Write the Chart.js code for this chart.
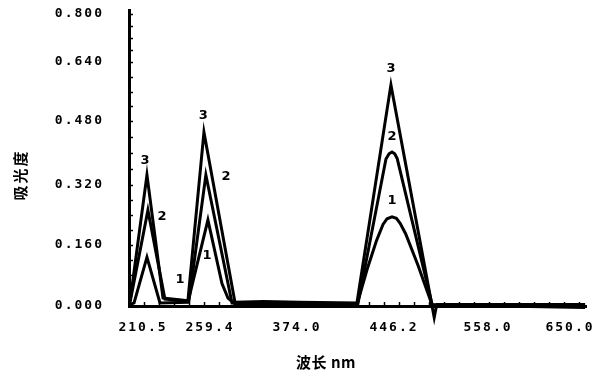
<!DOCTYPE html>
<html>
<head>
<meta charset="utf-8">
<script src="https://cdn.jsdelivr.net/npm/chart.js@4/dist/chart.umd.min.js"></script>
<style>
  body { margin: 0; background: #fff; }
  #wrap { width: 600px; height: 380px; }
</style>
</head>
<body>
<div id="wrap"><canvas id="spectrum" width="600" height="380"></canvas></div>
<script>
// tick labels as printed by the instrument
const xTicks = [210.5, 259.4, 374.0, 446.2, 558.0, 650.0];
const yTicks = [0, 0.16, 0.32, 0.48, 0.64, 0.80];

// curve 1
const wl1 = [200.8, 203.8, 213.4, 222.9, 243.3, 257.9, 275.2, 283.1, 292, 376, 418.6, 426.1, 433.0, 438.0, 441.0, 444.7, 449.0, 453.5, 460.0, 474.7, 491.4, 667];
const abs1 = [0.004, 0.008, 0.128, 0.008, 0.010, 0.227, 0.059, 0.021, 0.006, 0.004, 0.003, 0.095, 0.170, 0.215, 0.230, 0.235, 0.231, 0.218, 0.190, 0.107, 0.003, -0.004];
// curve 2
const wl2 = [200.8, 214.1, 226.5, 244.0, 256.4, 288.4, 376, 419.3, 440.2, 442.5, 444.7, 447.0, 450.0, 491.4, 497, 667];
const abs2 = [0.010, 0.253, 0.018, 0.013, 0.345, 0.008, 0.008, 0.005, 0.385, 0.398, 0.4025, 0.398, 0.386, 0.005, 0.0, 0.0];
// curve 3
const wl3 = [200.8, 213.4, 225.1, 243.3, 255.0, 292.3, 330, 376, 418.6, 443.9, 494, 497, 580, 667];
const abs3 = [0.012, 0.345, 0.021, 0.014, 0.452, 0.010, 0.012, 0.010, 0.008, 0.578, -0.03, 0.004, 0.004, 0.004];

// curve numbers written beside the peaks
const tagText = ['3', '2', '1', '3', '2', '1', '3', '2', '1'];
const tagWl = [211.9, 224.4, 237.5, 254.5, 280.5, 257.2, 443.9, 444.7, 444.7];
const tagAbs = [0.38, 0.235, 0.069, 0.494, 0.34, 0.131, 0.621, 0.44, 0.277];

// linear scale whose tick labels sit at uneven spots, like the printout
class PiecewiseScale extends Chart.LinearScale {
  static id = 'piecewise';
  static defaults = Chart.LinearScale.defaults;

  _frac(v) {
    const vals = this.options.breaks.values;
    const fr = this.options.breaks.fracs;
    let i = 1;
    while (i < vals.length - 1 && v > vals[i]) i++;
    const t = (v - vals[i - 1]) / (vals[i] - vals[i - 1]);
    return fr[i - 1] + t * (fr[i] - fr[i - 1]);
  }
  getPixelForValue(v) {
    const f = this._frac(v);
    return this.isHorizontal() ? this.left + f * this.width : this.bottom - f * this.height;
  }
  getValueForPixel(p) {
    const f = this.isHorizontal() ? (p - this.left) / this.width : (this.bottom - p) / this.height;
    const vals = this.options.breaks.values;
    const fr = this.options.breaks.fracs;
    let i = 1;
    while (i < fr.length - 1 && f > fr[i]) i++;
    const t = (f - fr[i - 1]) / (fr[i] - fr[i - 1]);
    return vals[i - 1] + t * (vals[i] - vals[i - 1]);
  }
}
Chart.register(PiecewiseScale);

const toPoints = (xs, ys) => xs.map((x, i) => ({ x: x, y: ys[i] }));

const spacing = {
  id: 'spacing',
  beforeLayout(chart) { chart.ctx.letterSpacing = '2px'; },
  beforeDraw(chart) { chart.ctx.letterSpacing = '2px'; }
};

const decorations = {
  id: 'decorations',
  afterDraw(chart) {
    const { ctx, chartArea } = chart;
    const xs = chart.scales.x, ys = chart.scales.y;
    ctx.save();
    ctx.strokeStyle = '#000';
    ctx.lineWidth = 1.5;
    // small inward ticks on the y axis
    for (let v = 0.04; v < 0.81; v += 0.04) {
      const py = Math.round(ys.getPixelForValue(v)) + 0.5;
      ctx.beginPath();
      ctx.moveTo(chartArea.left, py);
      ctx.lineTo(chartArea.left + 4, py);
      ctx.stroke();
    }
    // small ticks along the x axis
    for (let px = chartArea.left + 15; px < chartArea.right - 4; px += 15) {
      ctx.beginPath();
      ctx.moveTo(Math.round(px) + 0.5, chartArea.bottom);
      ctx.lineTo(Math.round(px) + 0.5, chartArea.bottom - 4);
      ctx.stroke();
    }

    ctx.fillStyle = '#000';
    ctx.textAlign = 'center';
    ctx.textBaseline = 'middle';
    ctx.letterSpacing = '0px';
    ctx.font = 'bold 13px "DejaVu Sans"';
    tagText.forEach((t, i) => {
      ctx.fillText(t, xs.getPixelForValue(tagWl[i]), ys.getPixelForValue(tagAbs[i]));
    });

    // axis titles
    ctx.font = 'bold 15px "Noto Sans CJK SC"';
    ctx.letterSpacing = '0.5px';
    ctx.fillText('波长 nm', 326, 362);
    ctx.translate(20, 175);
    ctx.rotate(-Math.PI / 2);
    ctx.letterSpacing = '2px';
    ctx.fillText('吸光度', 0, 0);
    ctx.restore();
  }
};

const lineStyle = {
  borderColor: '#000',
  borderWidth: 3,
  pointRadius: 0,
  tension: 0,
  fill: false,
  clip: false
};

new Chart(document.getElementById('spectrum'), {
  type: 'line',
  data: {
    datasets: [
      Object.assign({ label: '1', data: toPoints(wl1, abs1) }, lineStyle),
      Object.assign({ label: '2', data: toPoints(wl2, abs2) }, lineStyle),
      Object.assign({ label: '3', data: toPoints(wl3, abs3) }, lineStyle)
    ]
  },
  options: {
    responsive: false,
    animation: false,
    layout: { padding: { left: 0, right: 14, top: 10, bottom: 0 } },
    plugins: {
      legend: { display: false },
      tooltip: { enabled: false }
    },
    scales: {
      x: {
        type: 'piecewise',
        min: 200,
        max: 668,
        breaks: {
          values: [200, 210.5, 259.4, 374.0, 446.2, 558.0, 650.0, 668],
          fracs: [0, 0.0306, 0.1772, 0.3676, 0.5799, 0.7856, 0.9650, 1]
        },
        afterBuildTicks: (scale) => { scale.ticks = xTicks.map(v => ({ value: v })); },
        afterFit: (scale) => { scale.height = 74; scale.paddingLeft = 0; scale.paddingRight = 0; },
        grid: { display: false, drawTicks: false },
        border: { display: true, color: '#000', width: 3 },
        ticks: {
          color: '#000',
          padding: 14,
          autoSkip: false,
          maxRotation: 0,
          font: { family: 'DejaVu Sans Mono', weight: 'bold', size: 13 },
          callback: (v) => Number(v).toFixed(1)
        }
      },
      y: {
        type: 'piecewise',
        min: 0,
        max: 0.8133,
        breaks: {
          values: [0, 0.16, 0.32, 0.48, 0.64, 0.80, 0.8133],
          fracs: [0, 0.2061, 0.4088, 0.625, 0.8243, 0.9865, 1]
        },
        afterBuildTicks: (scale) => { scale.ticks = yTicks.map(v => ({ value: v })); },
        afterFit: (scale) => { scale.width = 129; scale.paddingTop = 0; scale.paddingBottom = 0; },
        grid: { display: false, drawTicks: false },
        border: { display: true, color: '#000', width: 3 },
        ticks: {
          color: '#000',
          padding: 25,
          font: { family: 'DejaVu Sans Mono', weight: 'bold', size: 13 },
          callback: (v) => Number(v).toFixed(3)
        }
      }
    }
  },
  plugins: [spacing, decorations]
});
</script>
</body>
</html>
